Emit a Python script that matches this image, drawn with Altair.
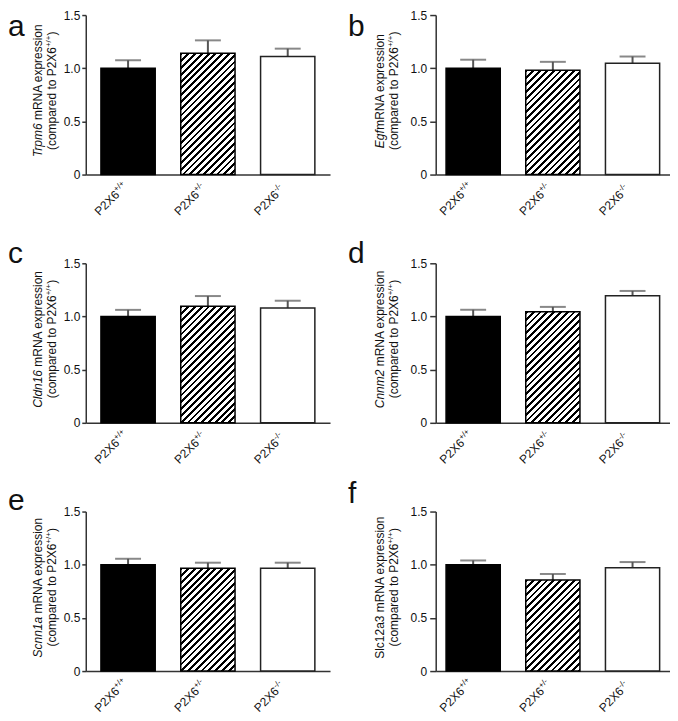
import altair as alt
import pandas as pd

# ---------------- data ----------------
groups = ["P2X6+/+", "P2X6+/-", "P2X6-/-"]
label_base = ["P2X6", "P2X6", "P2X6"]
label_sup = ["+/+", "+/-", "-/-"]

letters = ["a", "b", "c", "d", "e", "f"]
genes = ["Trpm6", "Egf", "Cldn16", "Cnnm2", "Scnn1a", "Slc12a3"]
gene_italic = [True, True, True, True, True, False]
gene_gap = [" ", "", " ", " ", " ", " "]

mean_trpm6 = [1.00, 1.14, 1.11]
sem_trpm6 = [0.075, 0.122, 0.074]
mean_egf = [1.00, 0.98, 1.047]
sem_egf = [0.08, 0.08, 0.063]
mean_cldn16 = [1.00, 1.096, 1.08]
sem_cldn16 = [0.062, 0.096, 0.068]
mean_cnnm2 = [1.00, 1.044, 1.194]
sem_cnnm2 = [0.063, 0.046, 0.046]
mean_scnn1a = [1.00, 0.966, 0.966]
sem_scnn1a = [0.056, 0.053, 0.053]
mean_slc12a3 = [1.00, 0.856, 0.972]
sem_slc12a3 = [0.04, 0.057, 0.053]

means = [mean_trpm6, mean_egf, mean_cldn16, mean_cnnm2, mean_scnn1a, mean_slc12a3]
sems = [sem_trpm6, sem_egf, sem_cldn16, sem_cnnm2, sem_scnn1a, sem_slc12a3]

y_ticks = [0, 0.5, 1.0, 1.5]
y_tick_labels = ["0", "0.5", "1.0", "1.5"]

# ---------------- style ----------------
FONT = "Liberation Sans, Arial, Helvetica, sans-serif"
INK = "#111111"
AX = "#333333"
ERR = "#555555"
H = 160
PI = 0.32

# Arial advance widths (1/1000 em), used to lay out mixed-style titles
AW = {' ': 278, '(': 333, ')': 333, '+': 584, '-': 333, '/': 278,
      '1': 556, '2': 556, '3': 556, '6': 556, 'A': 667, 'C': 722, 'E': 667, 'M': 833,
      'N': 722, 'P': 667, 'R': 722, 'S': 667, 'T': 611, 'X': 667, 'a': 556, 'c': 500,
      'd': 556, 'e': 556, 'f': 278, 'g': 556, 'i': 222, 'l': 222, 'm': 833, 'n': 556,
      'o': 556, 'p': 556, 'r': 333, 's': 500, 't': 278, 'x': 500}


def tw(s, size):
    return sum(AW.get(c, 556) for c in s) * size / 1000.0


def hatch(w, h, period=6.8, frac=0.42):
    S = w + h
    stops = []
    k = 0
    while k * period < S:
        a = k * period / S
        b = min((k * period + frac * period) / S, 1.0)
        c = min((k + 1) * period / S, 1.0)
        stops += [alt.GradientStop(color="#000000", offset=round(a, 5)),
                  alt.GradientStop(color="#000000", offset=round(b, 5)),
                  alt.GradientStop(color="#ffffff", offset=round(b, 5)),
                  alt.GradientStop(color="#ffffff", offset=round(c, 5))]
        k += 1
    x2 = S * w / (w * w + h * h)
    y2 = S * h / (w * w + h * h)
    return alt.LinearGradient(gradient="linear", stops=stops, x1=0, y1=0,
                              x2=round(x2, 5), y2=round(y2, 5))


one = pd.DataFrame({"k": [0]})


def txt(text, x, y, size=12, align="left", angle=0, style="normal"):
    return alt.Chart(one).mark_text(
        text=text, fontSize=size, align=align, angle=angle, fontStyle=style,
        baseline="alphabetic", font=FONT, color=INK
    ).encode(x=alt.value(x), y=alt.value(y))


letter_pos = [(-78, 21), (-88, 21), (-78, 0), (-88, 0), (-78, -2), (-88, -9)]

label_expr = "[" + ",".join("'%s'" % s for s in y_tick_labels) + "][indexof([" + \
    ",".join(str(v) for v in y_ticks) + "], datum.value)]"


def panel(i):
    left = (i % 2 == 0)
    W = 245 if left else 235
    PO = 0.19 if left else 0.13
    tick = 4 if left else 6
    lpad = 2 if left else 3
    l1b = -44 if left else -52
    l2b = -30 if left else -38

    m = means[i]
    s = sems[i]
    df = pd.DataFrame({"group": groups, "mean": m,
                       "upper": [a + b for a, b in zip(m, s)]})
    base = alt.Chart(df)

    xscale = alt.Scale(domain=groups, paddingInner=PI, paddingOuter=PO)
    xaxis = alt.Axis(labels=False, ticks=False, title=None, grid=False,
                     domainColor=AX, domainWidth=1.5)
    x = alt.X("group:N", scale=xscale, sort=groups, axis=xaxis)
    yscale = alt.Scale(domain=[0, 1.5], nice=False, zero=True)
    yaxis = alt.Axis(values=y_ticks, labelExpr=label_expr, tickSize=tick,
                     labelPadding=lpad, title=None, grid=False, domainColor=AX,
                     tickColor=AX, domainWidth=1.5, tickWidth=1.5, labelFont=FONT,
                     labelFontSize=12, labelColor=INK)
    y = alt.Y("mean:Q", scale=yscale, axis=yaxis)
    yu = alt.Y("upper:Q", scale=yscale, axis=yaxis)

    # band geometry of the x scale above (for label anchors and hatch shape)
    step = W / (3 - PI + 2 * PO)
    bw = step * (1 - PI)
    centers = [step * PO + k * step + bw / 2 for k in range(3)]
    hh = m[1] / 1.5 * H

    layers = []
    layers.append(base.mark_rule(color=ERR, strokeWidth=2).encode(x=x, y=y, y2="upper:Q"))
    layers.append(base.mark_tick(color=ERR, size=26, thickness=2).encode(x=x, y=yu))
    fills = ["#000000", hatch(bw, hh), "#ffffff"]
    strokes = ["#000000", "#000000", "#222222"]
    for g, f, st in zip(groups, fills, strokes):
        layers.append(base.transform_filter(alt.datum.group == g)
                      .mark_bar(fill=f, stroke=st, strokeWidth=1.5).encode(x=x, y=y))

    # x labels: P2X6 + superscript genotype, rotated -45 degrees
    for cx, lb, sp in zip(centers, label_base, label_sup):
        ax_, ay_ = cx - 8, H + 21
        layers.append(txt(lb, ax_, ay_, align="right", angle=315))
        layers.append(txt(sp, ax_ - 3.5, ay_ - 3.5, size=8, align="left", angle=315))

    # y title: two rotated lines, italic gene name and superscript genotype
    mid = H / 2 - 4
    gene = genes[i]
    rest = "mRNA expression"
    wg = tw(gene, 12)
    wgap = tw(gene_gap[i], 12) if gene_gap[i] else 0.5
    wr = tw(rest, 12)
    W1 = wg + wgap + wr
    j1 = mid + W1 / 2 - wg
    layers.append(txt(gene, l1b, j1, align="right", angle=270,
                      style="italic" if gene_italic[i] else "normal"))
    layers.append(txt(rest, l1b, j1 - wgap, align="left", angle=270))

    p1 = "(compared to P2X6"
    sp = "+/+"
    w_a = tw(p1, 12)
    w_s = tw(sp, 8)
    W2 = w_a + w_s + tw(")", 12)
    j2 = mid + W2 / 2 - w_a
    layers.append(txt(p1, l2b, j2, align="right", angle=270))
    layers.append(txt(sp, l2b - 5, j2, size=8, align="left", angle=270))
    layers.append(txt(")", l2b, j2 - w_s, align="left", angle=270))

    # panel letter
    lx, ly = letter_pos[i]
    layers.append(txt(letters[i], lx, ly, size=30))

    return alt.layer(*layers).properties(width=W, height=H)


panels = [panel(i) for i in range(6)]

chart = alt.concat(*panels, columns=2, spacing={"row": 89, "column": 106},
                   bounds="flush", align="all", padding=0).configure_view(stroke=None)

chart.save("out.html", embed_options={"renderer": "svg", "actions": False})
